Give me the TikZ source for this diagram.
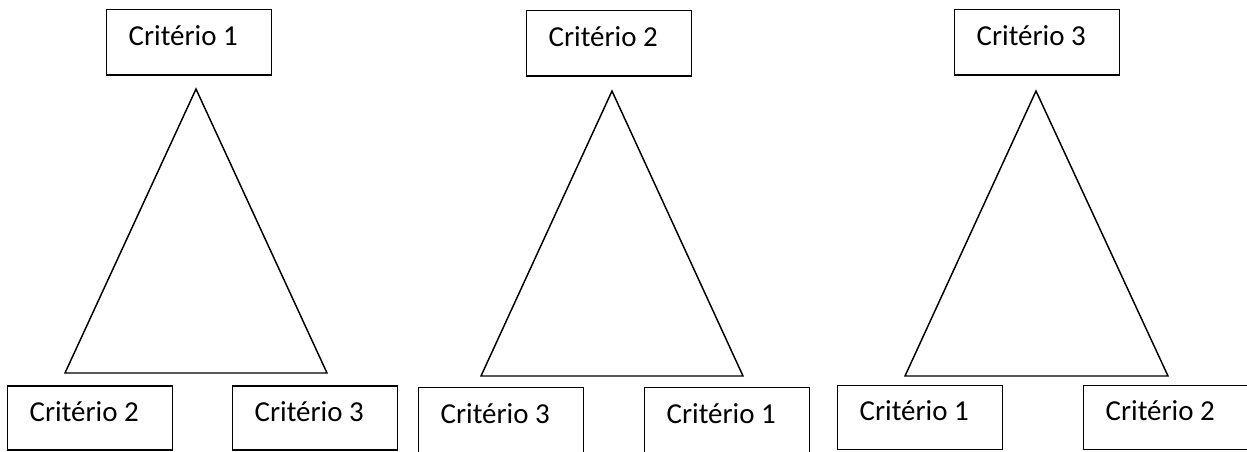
\documentclass[tikz,border=0pt]{standalone}
\usepackage{fontspec}
\setmainfont{Carlito}

\begin{document}
\begin{tikzpicture}[x=0.75pt, y=-0.75pt, line width=1.1pt,
		crit/.style={draw, rectangle, anchor=north west, minimum width=123.75pt, minimum height=49pt,
			text height=0.7em, text depth=0.25em, execute at end node={\hspace{9pt}},
			font=\fontsize{21.7}{26}\selectfont},
		low/.style={minimum height=48pt}]
		\useasboundingbox (0,0) rectangle (1247,452);
		\clip (0,0) rectangle (1247,452);
		
		\coordinate (A_0) at (196, 89);
		\coordinate (A_1) at (65, 373);
		\coordinate (A_2) at (327, 373);
		\coordinate (B_0) at (612, 91);
		\coordinate (B_1) at (481, 376);
		\coordinate (B_2) at (743, 376);
		\coordinate (C_0) at (1036, 91);
		\coordinate (C_1) at (905, 376);
		\coordinate (C_2) at (1168, 376);
		
		% first triangle
		\node[crit] (topA) at (106, 9) {Critério 1};
		\node[crit, low] (leftA) at (7, 385.5) {Critério 2};
		\node[crit, low] (rightA) at (232, 385.5) {Critério 3};
		\draw (A_0) -- (A_1) -- (A_2) -- cycle;
		
		% second triangle
		\node[crit] (topB) at (526, 10) {Critério 2};
		\node[crit] (leftB) at (418, 387) {Critério 3};
		\node[crit] (rightB) at (644, 387) {Critério 1};
		\draw (B_0) -- (B_1) -- (B_2) -- cycle;
		
		% third triangle
		\node[crit] (topC) at (954, 9) {Critério 3};
		\node[crit, low] (leftC) at (837, 385) {Critério 1};
		\node[crit, low] (rightC) at (1083, 385) {Critério 2};
		\draw (C_0) -- (C_1) -- (C_2) -- cycle;
	\end{tikzpicture}
\end{document}
